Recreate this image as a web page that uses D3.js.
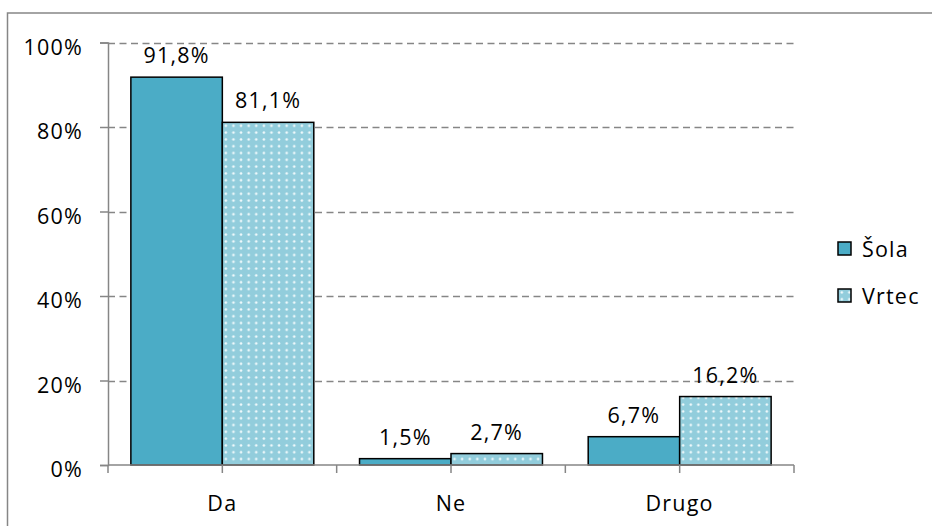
<!DOCTYPE html>
<html>
<head>
<meta charset="utf-8">
<script src="https://cdn.jsdelivr.net/npm/d3@7"></script>
<style>
  body { margin: 0; background: #fff; }
  svg text { font-family: "Open Sans", "Noto Sans", sans-serif; font-size: 21.5px; fill: #000; letter-spacing: 1.2px; }
</style>
</head>
<body>
<div id="app"></div>
<script>
var categories = ['Da', 'Ne', 'Drugo'];
var seriesNames = ['Šola', 'Vrtec'];
var sola = [91.8, 1.5, 6.7];
var vrtec = [81.1, 2.7, 16.2];
var yTicks = [0, 20, 40, 60, 80, 100];

var width = 932, height = 526;
var plotLeft = 108, plotRight = 794, plotTop = 42.5, plotBottom = 465;
var colors = ['#4bacc6', '#92cddc'];

var svg = d3.select('#app').append('svg').attr('width', width).attr('height', height);

var defs = svg.append('defs');
var pat = defs.append('pattern').attr('id', 'dots').attr('patternUnits', 'userSpaceOnUse')
    .attr('width', 7.6).attr('height', 6.8);
pat.append('rect').attr('width', 7.6).attr('height', 6.8).attr('fill', colors[1]);
pat.append('circle').attr('cx', 3.8).attr('cy', 3.4).attr('r', 1.3).attr('fill', '#f2fafc');

// outer chart border
svg.append('rect').attr('x', 7.5).attr('y', 13).attr('width', 960).attr('height', 560)
    .attr('fill', 'none').attr('stroke', '#868686').attr('stroke-width', 1.5);

var y = d3.scaleLinear().domain([0, 100]).range([plotBottom, plotTop]);
var x0 = d3.scaleBand().domain(categories).range([plotLeft, plotRight]).paddingInner(0.2).paddingOuter(0.1);
var x1 = d3.scaleBand().domain(seriesNames).range([0, x0.bandwidth()]);

// gridlines
svg.append('g').selectAll('line').data(yTicks.filter(function(d) { return d > 0; })).enter().append('line')
    .attr('x1', plotLeft).attr('x2', plotRight)
    .attr('y1', function(d) { return Math.round(y(d)) + 0.5; })
    .attr('y2', function(d) { return Math.round(y(d)) + 0.5; })
    .attr('stroke', '#868686').attr('stroke-width', 1.3).attr('stroke-dasharray', '7,4.5');

// y axis
var yAxis = d3.axisLeft(y).tickValues(yTicks).tickSize(8).tickPadding(17)
    .tickFormat(function(d) { return d + '%'; });
var gy = svg.append('g').attr('transform', 'translate(' + plotLeft + ',0)').call(yAxis);
gy.select('.domain').attr('stroke', '#868686').attr('stroke-width', 1.5);
gy.selectAll('.tick line').attr('stroke', '#868686').attr('stroke-width', 1.5);
gy.selectAll('.tick text').attr('dy', '0.55em').attr('fill', '#000').style('font-size', '21.5px')
    .style('font-family', '"Open Sans", sans-serif');

// bars
var rows = categories.map(function(c, i) { return { cat: c, vals: [sola[i], vrtec[i]] }; });
var groups = svg.append('g').selectAll('g').data(rows).enter().append('g')
    .attr('transform', function(d) { return 'translate(' + x0(d.cat) + ',0)'; });

groups.selectAll('rect').data(function(d) { return d.vals; }).enter().append('rect')
    .attr('x', function(d, i) { return x1(seriesNames[i]); })
    .attr('y', function(d) { return y(d); })
    .attr('width', x1.bandwidth())
    .attr('height', function(d) { return plotBottom - y(d); })
    .attr('fill', function(d, i) { return i === 0 ? colors[0] : 'url(#dots)'; })
    .attr('stroke', '#000').attr('stroke-width', 1.5);

groups.selectAll('text').data(function(d) { return d.vals; }).enter().append('text')
    .attr('x', function(d, i) { return x1(seriesNames[i]) + x1.bandwidth() / 2; })
    .attr('y', function(d) { return y(d) - 14; })
    .attr('text-anchor', 'middle')
    .text(function(d) { return d.toFixed(1).replace('.', ',') + '%'; });

// x axis
var halfTicks = d3.range(0, 7).map(function(i) { return plotLeft + i * (plotRight - plotLeft) / 6; });
var gx = svg.append('g');
gx.append('line').attr('x1', plotLeft).attr('x2', plotRight).attr('y1', plotBottom).attr('y2', plotBottom)
    .attr('stroke', '#868686').attr('stroke-width', 1.5);
gx.selectAll('.t').data(halfTicks).enter().append('line').attr('class', 't')
    .attr('x1', function(d) { return d; }).attr('x2', function(d) { return d; })
    .attr('y1', plotBottom).attr('y2', plotBottom + 8)
    .attr('stroke', '#868686').attr('stroke-width', 1.5);
gx.selectAll('text').data(categories).enter().append('text')
    .attr('x', function(d) { return x0(d) + x0.bandwidth() / 2; })
    .attr('y', 511)
    .attr('text-anchor', 'middle')
    .text(function(d) { return d; });

// legend
var legend = svg.append('g').selectAll('g').data(seriesNames).enter().append('g')
    .attr('transform', function(d, i) { return 'translate(838,' + (242 + i * 47) + ')'; });
legend.append('rect').attr('width', 13).attr('height', 13)
    .attr('fill', function(d, i) { return i === 0 ? colors[0] : 'url(#dots)'; })
    .attr('stroke', '#000').attr('stroke-width', 1.5);
legend.append('text').attr('x', 24).attr('y', 15).text(function(d) { return d; });
</script>
</body>
</html>
